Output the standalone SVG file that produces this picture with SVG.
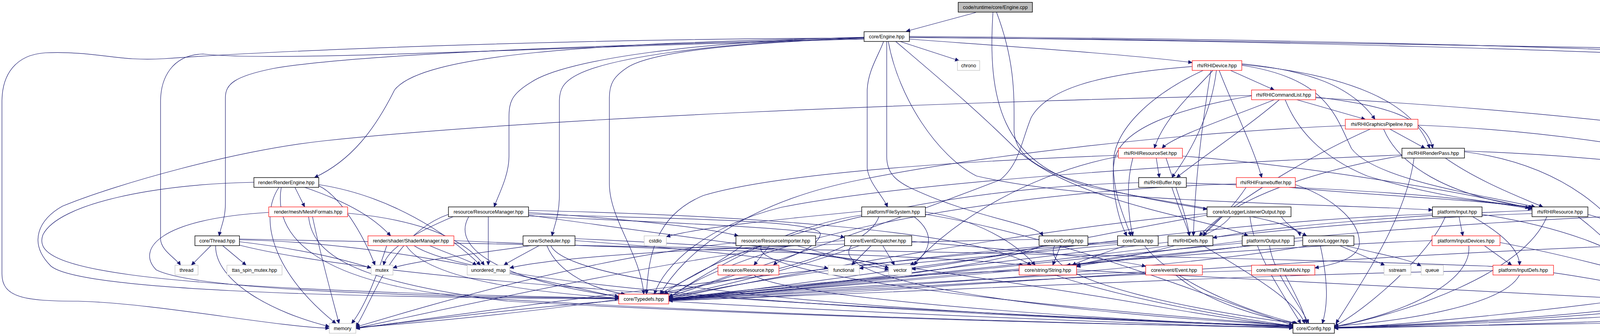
<svg xmlns="http://www.w3.org/2000/svg" width="4957" height="859" viewBox="0 0 4957 859">
<style>
.e path{fill:none;stroke:#191970;stroke-width:1.2;marker-end:url(#a)}
.nd rect{fill:#fff;stroke:#000;stroke-width:1.4}
.nd.r rect{stroke:#ff0000;stroke-width:1.2}
.nd.g rect{stroke:#bfbfbf;stroke-width:1.2}
.nd.root rect{fill:#bfbfbf;stroke:#000;stroke-width:1.4}
.nd text{font-family:"Liberation Sans",Arial,sans-serif;font-size:12.5px;fill:#000;text-anchor:middle}
</style>
<defs>
<marker id="a" markerUnits="userSpaceOnUse" markerWidth="12" markerHeight="10" refX="10" refY="5" orient="auto"><path d="M0,0.5 L10,5 L0,9.5 z" fill="#191970" stroke="#191970" stroke-width="1"/></marker>
</defs>
<rect width="4957" height="859" fill="#fff"/>
<g id="edges" class="e">
<path d="M2498 32 L2320 80"/>
<path d="M2542 31 C2528 250 2560 420 2800 480 C3100 540 3320 560 3328 603"/>
<path d="M2551 31 C2600 160 2596 250 2596 330 C2596 420 2700 470 3090 535"/>
<path d="M2304 106 L2455 155"/>
<path d="M2328 100 C2600 120 2900 140 3052 160"/>
<path d="M2212 96 C1500 110 1080 140 1010 230 C960 330 900 410 805 454"/>
<path d="M2212 99 C1500 115 900 140 700 175 C600 195 577 215 577 250 L577 520 C577 560 565 580 561 603"/>
<path d="M2212 100 C1400 120 700 160 520 138 C440 140 411 200 411 260 L411 610 C411 640 450 660 462 678"/>
<path d="M2212 97 C1400 100 700 130 420 150 C300 158 250 130 116 135 C40 140 5 190 5 260 L5 700 C5 760 60 770 200 770 C400 775 700 835 843 839"/>
<path d="M2212 95 C1800 105 1450 150 1360 210 C1310 240 1303 260 1303 300 L1303 400 C1303 450 1275 500 1265 529"/>
<path d="M2212 96 C1800 110 1560 150 1480 190 C1440 210 1432 230 1432 260 L1432 500 C1432 550 1418 580 1413 603"/>
<path d="M2212 97 C1900 110 1680 130 1610 170 C1570 195 1560 215 1560 250 L1560 470 C1560 560 1640 650 1648 752"/>
<path d="M2262 106 C2250 140 2222 180 2220 230 L2220 430 C2225 470 2260 500 2272 529"/>
<path d="M2270 106 L2270 400 C2270 440 2290 460 2330 480 C2500 560 2650 570 2670 603"/>
<path d="M2274 106 C2300 250 2400 400 2500 450 C2800 520 3400 520 3667 537"/>
<path d="M2293 106 C2380 180 2500 280 2600 380 C2750 520 3100 560 3195 603"/>
<path d="M2328 96 C3000 100 3700 110 4300 125 C4500 130 4700 150 4760 180 C4800 200 4803 220 4803 250 L4803 400 C4803 460 4740 510 4640 529"/>
<path d="M2328 95 C3300 105 4100 130 4450 150 C4600 160 4700 140 4790 137 C4870 137 4904 180 4904 260 L4904 700 C4904 780 4700 800 4300 815 C3900 830 3550 838 3416 839"/>
<path d="M2328 93 C3300 100 4100 120 4500 145 C4650 155 4730 160 4800 161 C4900 161 4954 190 4954 260 L4954 760 C4954 820 4800 840 4630 840"/>
<path d="M3150 180 L3262 230"/>
<path d="M3105 180 C3060 230 2980 300 2955 379"/>
<path d="M3080 180 C2950 240 2850 330 2850 420 C2850 500 2880 560 2895 603"/>
<path d="M3114 180 C3100 300 3040 400 3000 454"/>
<path d="M3121 180 C3160 280 3210 380 3230 454"/>
<path d="M3179 163 C3350 180 3460 220 3520 305"/>
<path d="M3179 165 C3450 190 3620 260 3660 379"/>
<path d="M3179 167 C3400 200 3420 300 3460 380 C3520 460 3800 500 3930 529"/>
<path d="M3052 170 C2800 190 2680 230 2640 300 C2615 360 2610 420 2560 460 C2300 560 1900 700 1712 758"/>
<path d="M3100 180 C3080 300 3060 450 3055 603"/>
<path d="M3262 255 C3150 300 3000 350 2975 379"/>
<path d="M3320 255 L3495 305"/>
<path d="M3368 248 C3550 270 3650 300 3668 379"/>
<path d="M3275 255 C3200 320 3080 400 3012 454"/>
<path d="M3204 245 C3000 280 2880 330 2855 400 C2840 460 2860 560 2885 603"/>
<path d="M3204 244 C2400 262 1400 300 830 360 C600 385 300 470 160 527 C100 560 70 620 130 680 C200 740 800 760 1584 764"/>
<path d="M3290 255 C3320 330 3380 400 3500 450 C3700 510 3850 520 3925 530"/>
<path d="M3368 250 C3900 280 4400 330 4700 400 C4830 440 4860 480 4860 560 L4860 750 C4860 800 4600 815 4200 825 C3800 834 3550 838 3416 838"/>
<path d="M3558 330 L3648 379"/>
<path d="M3444 321 C3000 340 2500 400 2200 460 C1900 520 1750 650 1690 752"/>
<path d="M3542 330 C3580 420 3700 500 3925 531"/>
<path d="M3508 330 C3350 400 3150 520 3070 603"/>
<path d="M3630 320 C4000 335 4300 390 4480 440 C4650 490 4720 560 4720 650 C4720 740 4600 780 4200 805 C3800 828 3550 836 3416 836"/>
<path d="M2960 404 L2968 454"/>
<path d="M3027 399 C3300 420 3700 480 3915 532"/>
<path d="M2985 404 C3010 480 3040 560 3045 603"/>
<path d="M2863 397 C2500 410 2000 440 1800 500 C1680 550 1660 650 1655 752"/>
<path d="M2900 404 C2880 480 2890 560 2900 603"/>
<path d="M2863 400 C2600 450 2400 600 2340 678"/>
<path d="M3700 404 C3780 460 3880 500 3950 529"/>
<path d="M3589 398 C3400 430 3150 500 3080 603"/>
<path d="M3589 396 C3000 420 2300 470 2000 530 C1800 580 1700 680 1675 752"/>
<path d="M3620 404 C3600 550 3500 700 3420 827"/>
<path d="M3749 388 C4000 420 4150 550 4200 678"/>
<path d="M3749 386 C4000 395 4300 420 4450 460 C4600 490 4700 520 4700 560 C4700 580 4680 595 4660 603"/>
<path d="M755 479 L780 529"/>
<path d="M780 479 C900 520 960 560 1000 603"/>
<path d="M650 466 C400 470 150 520 110 600 C80 680 250 740 1584 762"/>
<path d="M714 479 C660 560 700 700 860 827"/>
<path d="M816 475 C870 500 930 600 960 678"/>
<path d="M816 472 C1000 500 1150 600 1230 678"/>
<path d="M720 479 C700 600 800 720 1200 760 C2000 810 2900 830 3310 838"/>
<path d="M688 543 C400 560 350 640 400 690 C500 740 1000 758 1584 763"/>
<path d="M790 554 C800 650 900 720 1300 770 C2000 810 2900 832 3310 836"/>
<path d="M890 545 C1050 560 1180 600 1240 678"/>
<path d="M800 554 C820 650 850 760 868 827"/>
<path d="M1353 547 C1700 560 2110 560 2100 600 C2090 640 2000 660 1980 678"/>
<path d="M1353 543 C1600 560 1800 580 1890 603"/>
<path d="M1353 552 C1700 570 2050 580 2162 607"/>
<path d="M1160 554 C1050 600 990 640 982 678"/>
<path d="M1250 554 L1250 678"/>
<path d="M1200 554 C1150 640 1300 720 1584 758"/>
<path d="M1353 550 C1700 600 2500 700 3000 790 C3150 815 3250 830 3310 834"/>
<path d="M1148 548 C1000 600 950 780 911 835"/>
<path d="M1353 538 C1900 550 2500 590 2640 678"/>
<path d="M2340 554 C2400 600 2380 650 2330 678"/>
<path d="M2206 550 C2000 580 1800 700 1712 762"/>
<path d="M2369 548 C2700 600 3100 760 3310 832"/>
<path d="M2369 542 C2500 560 2600 620 2650 678"/>
<path d="M2206 540 C2000 560 1800 580 1706 605"/>
<path d="M2250 554 C2200 700 1500 790 911 838"/>
<path d="M3280 554 C3300 580 3320 590 3345 603"/>
<path d="M3090 546 C2700 580 2000 700 1712 765"/>
<path d="M3200 554 C3210 650 3290 760 3330 827"/>
<path d="M3150 554 C3100 620 2900 660 2730 678"/>
<path d="M3090 550 C2800 600 2500 670 2334 688"/>
<path d="M3735 554 L3745 603"/>
<path d="M3770 554 C3850 600 3890 640 3890 678"/>
<path d="M3667 547 C3000 570 2300 700 1712 766"/>
<path d="M3700 554 C3660 650 3500 790 3416 834"/>
<path d="M3794 548 C4000 580 4150 640 4175 678"/>
<path d="M3922 546 C3200 570 2400 700 1712 767"/>
<path d="M3960 554 C3900 700 3600 800 3416 836"/>
<path d="M4040 554 C4100 600 4150 650 4165 678"/>
<path d="M4065 548 C4250 600 4250 700 4200 752"/>
<path d="M3922 538 C3600 550 3250 580 3105 608"/>
<path d="M4580 554 L4620 603"/>
<path d="M4535 554 C4400 600 4300 640 4260 678"/>
<path d="M4469 542 C3500 560 2500 700 1712 768"/>
<path d="M4650 554 C4700 700 4500 800 3416 837"/>
<path d="M540 628 L490 678"/>
<path d="M570 628 L630 678"/>
<path d="M613 618 C800 640 900 670 950 685"/>
<path d="M613 613 C1000 620 1400 720 1584 760"/>
<path d="M610 626 C900 700 1700 770 3310 835"/>
<path d="M613 611 C1500 630 3000 650 3800 680 C4100 695 4400 790 4575 827"/>
<path d="M552 628 C550 720 700 800 843 835"/>
<path d="M1100 628 C1150 650 1200 665 1220 678"/>
<path d="M1040 628 C1100 720 1400 750 1584 762"/>
<path d="M1060 628 C1200 720 2000 790 3310 836"/>
<path d="M990 628 C960 720 930 790 900 827"/>
<path d="M1162 615 C1700 640 2400 650 2620 678"/>
<path d="M1360 628 C1200 650 1050 670 1006 685"/>
<path d="M1380 628 C1340 650 1310 665 1290 678"/>
<path d="M1400 628 C1430 700 1520 740 1600 752"/>
<path d="M1410 628 C1460 730 2200 800 3310 833"/>
<path d="M1472 615 C1800 640 2000 660 2120 686"/>
<path d="M1472 610 C1900 630 2200 650 2275 686"/>
<path d="M1970 628 L1930 678"/>
<path d="M1900 628 C1800 700 1720 730 1690 752"/>
<path d="M1950 628 C1900 700 2600 780 3310 832"/>
<path d="M1884 620 C1500 660 1100 780 911 836"/>
<path d="M2040 628 C2150 660 2230 680 2275 690"/>
<path d="M2230 628 L2180 678"/>
<path d="M2260 628 L2290 678"/>
<path d="M2200 628 C2000 700 1800 740 1712 760"/>
<path d="M2180 628 C2100 720 2700 800 3310 832"/>
<path d="M2334 617 C2600 640 2850 660 2933 681"/>
<path d="M2162 615 C1800 640 1100 800 911 839"/>
<path d="M2715 628 L2695 678"/>
<path d="M2670 628 C2500 700 1900 745 1712 763"/>
<path d="M2700 628 C2650 720 3100 800 3320 827"/>
<path d="M2660 612 C2200 620 1500 640 1305 685"/>
<path d="M2880 628 C2820 650 2770 665 2745 678"/>
<path d="M2861 618 C2400 640 1900 720 1712 762"/>
<path d="M2930 628 C3000 720 3200 800 3322 827"/>
<path d="M2861 621 C2200 660 1200 800 911 840"/>
<path d="M2861 625 C2600 650 2350 670 2200 686"/>
<path d="M2995 628 C2600 680 2000 740 1712 764"/>
<path d="M3080 628 C3200 700 3320 770 3340 827"/>
<path d="M3180 616 C3000 640 2800 660 2756 680"/>
<path d="M3200 628 C2800 680 2000 745 1712 765"/>
<path d="M3250 628 C3260 700 3330 780 3350 827"/>
<path d="M3430 628 L3545 678"/>
<path d="M3445 628 C3530 650 3600 660 3638 680"/>
<path d="M3316 472 C3400 500 3480 560 3480 620 C3480 660 3420 675 3366 685"/>
<path d="M3335 615 C3100 640 2850 660 2756 682"/>
<path d="M3350 628 C3000 690 2100 745 1712 766"/>
<path d="M3380 628 C3400 720 3400 780 3385 827"/>
<path d="M3800 628 L3870 678"/>
<path d="M3666 615 C3000 640 2200 730 1712 767"/>
<path d="M3760 628 C3770 720 3600 800 3416 835"/>
<path d="M3840 620 C4000 650 4100 680 4150 690"/>
<path d="M4620 628 C4500 700 4350 740 4290 752"/>
<path d="M4571 615 C3500 640 2500 740 1712 769"/>
<path d="M4650 628 C4700 750 4300 810 3416 838"/>
<path d="M1870 703 C1800 730 1740 745 1700 752"/>
<path d="M1930 703 C2000 760 2800 820 3310 834"/>
<path d="M2609 692 C2300 700 1900 740 1712 765"/>
<path d="M2700 703 C2900 770 3200 820 3310 833"/>
<path d="M2756 690 C3300 720 3900 750 4132 762"/>
<path d="M2933 695 C2600 705 2000 745 1712 766"/>
<path d="M3010 703 C3100 780 3250 815 3318 827"/>
<path d="M3204 692 C2800 700 2100 750 1712 767"/>
<path d="M3290 703 C3320 760 3340 800 3345 827"/>
<path d="M3822 692 C3200 700 2300 750 1712 768"/>
<path d="M3890 703 C3850 780 3600 820 3416 834"/>
<path d="M4228 703 L4222 752"/>
<path d="M4280 777 C4400 800 4500 820 4572 834"/>
<path d="M4132 770 C3900 800 3600 830 3416 839"/>
<path d="M1584 768 C1300 790 1000 830 911 838"/>
<path d="M1712 770 C2200 800 3000 830 3310 839"/>
<path d="M3037 468 C3400 480 3750 500 3922 535"/>
<path d="M3000 479 C3020 540 3040 580 3045 603"/>
<path d="M2915 467 C2400 480 1900 600 1700 752"/>
<path d="M3300 479 C3500 500 3800 510 3922 532"/>
<path d="M3190 479 C3150 540 3100 580 3080 603"/>
<path d="M3165 470 C2500 490 1900 620 1712 762"/>
</g>
<g id="n-engine-cpp" class="nd root"><rect x="2453" y="6" width="190" height="25"/><text x="2548" y="23">code/runtime/core/Engine.cpp</text></g>
<g id="n-engine-hpp" class="nd"><rect x="2212" y="81" width="116" height="25"/><text x="2270" y="98">core/Engine.hpp</text></g>
<g id="n-chrono" class="nd g"><rect x="2451" y="155" width="57" height="25"/><text x="2479.5" y="172">chrono</text></g>
<g id="n-rhidevice" class="nd r"><rect x="3052" y="155" width="127" height="25"/><text x="3115.5" y="172">rhi/RHIDevice.hpp</text></g>
<g id="n-rhicommandlist" class="nd r"><rect x="3204" y="230" width="164" height="25"/><text x="3286" y="247">rhi/RHICommandList.hpp</text></g>
<g id="n-rhigraphicspipeline" class="nd r"><rect x="3444" y="305" width="186" height="25"/><text x="3537" y="322">rhi/RHIGraphicsPipeline.hpp</text></g>
<g id="n-rhiresourceset" class="nd r"><rect x="2863" y="379" width="164" height="25"/><text x="2945" y="396">rhi/RHIResourceSet.hpp</text></g>
<g id="n-rhirenderpass" class="nd"><rect x="3589" y="379" width="160" height="25"/><text x="3669" y="396">rhi/RHIRenderPass.hpp</text></g>
<g id="n-renderengine" class="nd"><rect x="650" y="454" width="166" height="25"/><text x="733" y="471">render/RenderEngine.hpp</text></g>
<g id="n-rhibuffer" class="nd"><rect x="2915" y="454" width="122" height="25"/><text x="2976" y="471">rhi/RHIBuffer.hpp</text></g>
<g id="n-rhiframebuffer" class="nd r"><rect x="3165" y="454" width="151" height="25"/><text x="3240.5" y="471">rhi/RHIFramebuffer.hpp</text></g>
<g id="n-meshformats" class="nd r"><rect x="688" y="529" width="202" height="25"/><text x="789" y="546">render/mesh/MeshFormats.hpp</text></g>
<g id="n-resourcemanager" class="nd"><rect x="1148" y="529" width="205" height="25"/><text x="1250.5" y="546">resource/ResourceManager.hpp</text></g>
<g id="n-filesystem" class="nd"><rect x="2206" y="529" width="163" height="25"/><text x="2287.5" y="546">platform/FileSystem.hpp</text></g>
<g id="n-loggerlisteneroutput" class="nd"><rect x="3090" y="529" width="215" height="25"/><text x="3197.5" y="546">core/io/LoggerListenerOutput.hpp</text></g>
<g id="n-input" class="nd"><rect x="3667" y="529" width="127" height="25"/><text x="3730.5" y="546">platform/Input.hpp</text></g>
<g id="n-rhiresource" class="nd"><rect x="3922" y="529" width="143" height="25"/><text x="3993.5" y="546">rhi/RHIResource.hpp</text></g>
<g id="n-windowmanager" class="nd"><rect x="4469" y="529" width="193" height="25"/><text x="4565.5" y="546">platform/WindowManager.hpp</text></g>
<g id="n-thread-hpp" class="nd"><rect x="499" y="603" width="114" height="25"/><text x="556" y="620">core/Thread.hpp</text></g>
<g id="n-shadermanager" class="nd r"><rect x="942" y="603" width="220" height="25"/><text x="1052" y="620">render/shader/ShaderManager.hpp</text></g>
<g id="n-scheduler" class="nd"><rect x="1339" y="603" width="133" height="25"/><text x="1405.5" y="620">core/Scheduler.hpp</text></g>
<g id="n-cstdio" class="nd g"><rect x="1649" y="603" width="57" height="25"/><text x="1677.5" y="620">cstdio</text></g>
<g id="n-resourceimporter" class="nd"><rect x="1884" y="603" width="204" height="25"/><text x="1986" y="620">resource/ResourceImporter.hpp</text></g>
<g id="n-eventdispatcher" class="nd"><rect x="2162" y="603" width="172" height="25"/><text x="2248" y="620">core/EventDispatcher.hpp</text></g>
<g id="n-io-config" class="nd"><rect x="2660" y="603" width="125" height="25"/><text x="2722.5" y="620">core/io/Config.hpp</text></g>
<g id="n-data" class="nd"><rect x="2861" y="603" width="104" height="25"/><text x="2913" y="620">core/Data.hpp</text></g>
<g id="n-rhidefs" class="nd"><rect x="2990" y="603" width="115" height="25"/><text x="3047.5" y="620">rhi/RHIDefs.hpp</text></g>
<g id="n-output" class="nd"><rect x="3180" y="603" width="133" height="25"/><text x="3246.5" y="620">platform/Output.hpp</text></g>
<g id="n-logger" class="nd"><rect x="3335" y="603" width="131" height="25"/><text x="3400.5" y="620">core/io/Logger.hpp</text></g>
<g id="n-inputdevices" class="nd r"><rect x="3666" y="603" width="174" height="25"/><text x="3753" y="620">platform/InputDevices.hpp</text></g>
<g id="n-window" class="nd r"><rect x="4571" y="603" width="143" height="25"/><text x="4642.5" y="620">platform/Window.hpp</text></g>
<g id="n-thread" class="nd g"><rect x="448" y="678" width="59" height="25"/><text x="477.5" y="695">thread</text></g>
<g id="n-ttas" class="nd g"><rect x="581" y="678" width="141" height="25"/><text x="651.5" y="695">ttas_spin_mutex.hpp</text></g>
<g id="n-mutex" class="nd g"><rect x="950" y="678" width="56" height="25"/><text x="978" y="695">mutex</text></g>
<g id="n-unordered-map" class="nd g"><rect x="1196" y="678" width="109" height="25"/><text x="1250.5" y="695">unordered_map</text></g>
<g id="n-resource" class="nd r"><rect x="1838" y="678" width="156" height="25"/><text x="1916" y="695">resource/Resource.hpp</text></g>
<g id="n-functional" class="nd g"><rect x="2120" y="678" width="80" height="25"/><text x="2160" y="695">functional</text></g>
<g id="n-vector" class="nd g"><rect x="2275" y="678" width="59" height="25"/><text x="2304.5" y="695">vector</text></g>
<g id="n-string" class="nd r"><rect x="2609" y="678" width="147" height="25"/><text x="2682.5" y="695">core/string/String.hpp</text></g>
<g id="n-event" class="nd r"><rect x="2933" y="678" width="145" height="25"/><text x="3005.5" y="695">core/event/Event.hpp</text></g>
<g id="n-tmatmxn" class="nd r"><rect x="3204" y="678" width="162" height="25"/><text x="3285" y="695">core/math/TMatMxN.hpp</text></g>
<g id="n-sstream" class="nd g"><rect x="3543" y="678" width="69" height="25"/><text x="3577.5" y="695">sstream</text></g>
<g id="n-queue" class="nd g"><rect x="3638" y="678" width="57" height="25"/><text x="3666.5" y="695">queue</text></g>
<g id="n-inputdefs" class="nd r"><rect x="3822" y="678" width="155" height="25"/><text x="3899.5" y="695">platform/InputDefs.hpp</text></g>
<g id="n-ref" class="nd"><rect x="4150" y="678" width="157" height="25"/><text x="4228.5" y="695">core/templates/Ref.hpp</text></g>
<g id="n-typedefs" class="nd r"><rect x="1584" y="752" width="128" height="25"/><text x="1648" y="769">core/Typedefs.hpp</text></g>
<g id="n-refcnt" class="nd r"><rect x="4132" y="752" width="175" height="25"/><text x="4219.5" y="769">core/templates/RefCnt.hpp</text></g>
<g id="n-memory" class="nd g"><rect x="843" y="827" width="68" height="25"/><text x="877" y="844">memory</text></g>
<g id="n-config" class="nd"><rect x="3310" y="827" width="106" height="25"/><text x="3363" y="844">core/Config.hpp</text></g>
<g id="n-atomic" class="nd g"><rect x="4569" y="827" width="61" height="25"/><text x="4599.5" y="844">atomic</text></g>
</svg>
